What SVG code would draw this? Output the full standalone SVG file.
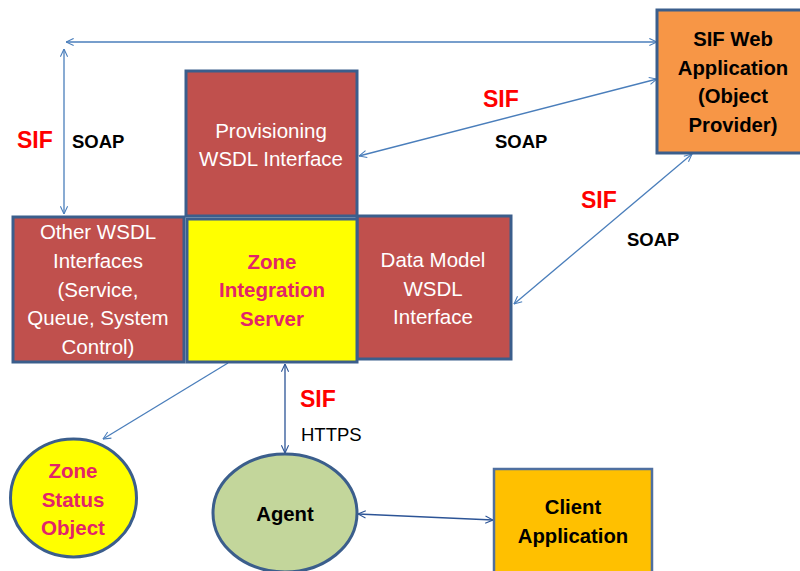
<svg xmlns="http://www.w3.org/2000/svg" width="800" height="571" viewBox="0 0 800 571">
  <defs>
    <marker id="head" viewBox="0 0 10 10" refX="9.5" refY="5" markerWidth="9" markerHeight="9" markerUnits="userSpaceOnUse" orient="auto-start-reverse">
      <path d="M1,1 L9.5,5 L1,9" fill="none" stroke="#4A7EBB" stroke-width="1.2"/>
    </marker>
    <marker id="headDark" viewBox="0 0 10 10" refX="9.5" refY="5" markerWidth="9" markerHeight="9" markerUnits="userSpaceOnUse" orient="auto-start-reverse">
      <path d="M1,1 L9.5,5 L1,9" fill="none" stroke="#2C5496" stroke-width="1.2"/>
    </marker>
    <style>
      .box { stroke: #3B5E8C; stroke-width: 3; }
      .red { fill: #C0504D; }
      .wt { fill: #FFFFFF; font-family: "Liberation Sans", Arial, sans-serif; font-size: 20.5px; text-anchor: middle; }
      .bk { fill: #000000; font-family: "Liberation Sans", Arial, sans-serif; font-size: 20.3px; font-weight: bold; text-anchor: middle; }
      .pk { fill: #E2246A; font-family: "Liberation Sans", Arial, sans-serif; font-size: 20.5px; font-weight: bold; text-anchor: middle; }
      .sif { fill: #FF0000; font-family: "Liberation Sans", Arial, sans-serif; font-size: 23px; font-weight: bold; }
      .proto { fill: #000000; font-family: "Liberation Sans", Arial, sans-serif; font-size: 18.5px; font-weight: bold; }
      .https { fill: #000000; font-family: "Liberation Sans", Arial, sans-serif; font-size: 18.5px; }
      .link { fill: none; stroke: #4A7EBB; stroke-width: 1.3; }
      .linkDark { fill: none; stroke: #2C5496; stroke-width: 1.3; }
    </style>
  </defs>

  <!-- connectors -->
  <g id="connectors">
    <line class="link" x1="66" y1="42" x2="657" y2="42" marker-start="url(#head)" marker-end="url(#head)"/>
    <line class="link" x1="64" y1="49" x2="64" y2="214" marker-start="url(#head)" marker-end="url(#head)"/>
    <line class="link" x1="359" y1="156" x2="657" y2="79" marker-start="url(#head)" marker-end="url(#head)"/>
    <line class="link" x1="514" y1="304" x2="692" y2="154" marker-start="url(#head)" marker-end="url(#head)"/>
    <line class="link" x1="228" y1="363" x2="103" y2="439" marker-end="url(#head)"/>
    <line class="linkDark" x1="285" y1="364" x2="285" y2="453" marker-start="url(#headDark)" marker-end="url(#headDark)"/>
    <line class="linkDark" x1="358" y1="514" x2="493" y2="520" marker-start="url(#headDark)" marker-end="url(#headDark)"/>

    <text class="sif" x="17" y="148">SIF</text>
    <text class="proto" x="72" y="148">SOAP</text>
    <text class="sif" x="483" y="107">SIF</text>
    <text class="proto" x="495" y="148">SOAP</text>
    <text class="sif" x="581" y="208">SIF</text>
    <text class="proto" x="627" y="246">SOAP</text>
    <text class="sif" x="300" y="407">SIF</text>
    <text class="https" x="301" y="441">HTTPS</text>
  </g>

  <!-- SIF Web Application -->
  <g id="sif-web-app">
    <rect class="box" x="657" y="10" width="150" height="143" fill="#F79646"/>
    <text class="bk" x="733" y="46">SIF Web</text>
    <text class="bk" x="733" y="75">Application</text>
    <text class="bk" x="733" y="103">(Object</text>
    <text class="bk" x="733" y="132">Provider)</text>
  </g>

  <!-- Other WSDL Interfaces -->
  <g id="other-wsdl">
    <rect class="box red" x="13" y="217" width="171" height="145"/>
    <text class="wt" x="98" y="239">Other WSDL</text>
    <text class="wt" x="98" y="268">Interfaces</text>
    <text class="wt" x="98" y="297">(Service,</text>
    <text class="wt" x="98" y="325">Queue, System</text>
    <text class="wt" x="98" y="354">Control)</text>
  </g>

  <!-- Data Model WSDL Interface -->
  <g id="data-model-wsdl">
    <rect class="box red" x="357" y="216" width="154" height="143"/>
    <text class="wt" x="433" y="267">Data Model</text>
    <text class="wt" x="433" y="296">WSDL</text>
    <text class="wt" x="433" y="324">Interface</text>
  </g>

  <!-- Provisioning WSDL Interface -->
  <g id="provisioning-wsdl">
    <rect class="box red" x="186" y="71" width="171" height="145"/>
    <text class="wt" x="271" y="138">Provisioning</text>
    <text class="wt" x="271" y="166">WSDL Interface</text>
  </g>

  <!-- Zone Integration Server -->
  <g id="zone-integration-server">
    <rect class="box" x="187" y="219" width="170" height="143" fill="#FFFF00"/>
    <text class="pk" x="272" y="269">Zone</text>
    <text class="pk" x="272" y="297">Integration</text>
    <text class="pk" x="272" y="326">Server</text>
  </g>

  <!-- Zone Status Object -->
  <g id="zone-status-object">
    <ellipse class="box" cx="73.5" cy="498" rx="63" ry="59" fill="#FFFF00"/>
    <text class="pk" x="73" y="478">Zone</text>
    <text class="pk" x="73" y="507">Status</text>
    <text class="pk" x="73" y="535">Object</text>
  </g>

  <!-- Agent -->
  <g id="agent">
    <ellipse class="box" cx="285" cy="513" rx="72" ry="59" fill="#C3D69B"/>
    <text class="bk" x="285" y="521">Agent</text>
  </g>

  <!-- Client Application -->
  <g id="client-application">
    <rect x="494" y="469" width="158" height="120" fill="#FFC000" stroke="#4F6FA0" stroke-width="2.5"/>
    <text class="bk" x="573" y="514">Client</text>
    <text class="bk" x="573" y="543">Application</text>
  </g>
</svg>
